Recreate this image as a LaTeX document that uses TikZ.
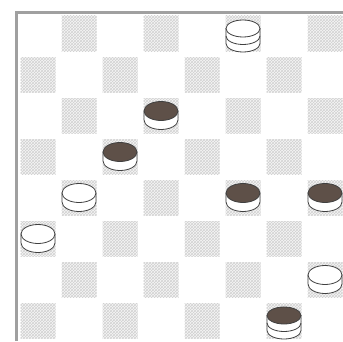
\documentclass[tikz,border=0pt]{standalone}
\usetikzlibrary{patterns}
\definecolor{darkman}{HTML}{5E5048}
\definecolor{edge}{HTML}{404040}
\definecolor{frame}{HTML}{A0A0A0}
\tikzset{
  hatchsq/.style={fill=gray!7, postaction={pattern=crosshatch, pattern color=gray!35}},
  side/.style={fill=white, draw=edge, line width=0.8pt},
  topdark/.style={fill=darkman, draw=edge, line width=0.8pt},
  toplight/.style={fill=white, draw=edge, line width=0.8pt},
}
% single man: #1 col, #2 row, #3 top style
\newcommand\man[3]{%
  \pgfmathsetmacro\cx{17.5+41*(#1)-20.5}%
  \pgfmathsetmacro\cy{341-13-41*(#2)+20.5}%
  \path[side] (\cx-17,\cy+4.5) -- (\cx-17,\cy-4.5)
     arc[start angle=180,end angle=360,x radius=17,y radius=9.5] -- (\cx+17,\cy+4.5) -- cycle;
  \path[#3] (\cx,\cy+4.5) ellipse[x radius=17,y radius=9.5];
}
% king: two stacked men
\newcommand\king[3]{%
  \pgfmathsetmacro\cx{17.5+41*(#1)-20.5}%
  \pgfmathsetmacro\cy{341-13-41*(#2)+20.5}%
  \path[side] (\cx-17,\cy+5) -- (\cx-17,\cy-10)
     arc[start angle=180,end angle=360,x radius=17,y radius=8.5] -- (\cx+17,\cy+5) -- cycle;
  \draw[edge, line width=0.8pt] (\cx-17,\cy-2.5)
     arc[start angle=180,end angle=360,x radius=17,y radius=8.5];
  \path[#3] (\cx,\cy+5) ellipse[x radius=17,y radius=8.5];
}
\begin{document}
\begin{tikzpicture}[x=1pt,y=1pt]
\useasboundingbox (0,0) rectangle (343,341);
\fill[white] (0,0) rectangle (343,341);
\begin{scope}
\clip (0,0) rectangle (343,341);
% dark squares
\foreach \r in {1,...,8}{
  \foreach \c in {1,...,8}{
    \pgfmathtruncatemacro\parity{mod(\r+\c,2)}
    \ifnum\parity=1
      \path[hatchsq] ({17.5+41*(\c-1)+3},{341-13-41*\r+3}) rectangle ({17.5+41*\c-3},{341-13-41*(\r-1)-3});
    \fi
  }
}
% frame
\draw[frame, line width=2.5pt] (16.5,0) -- (16.5,328.5) -- (345,328.5);
\end{scope}
% pieces
\king{6}{1}{toplight}
\man{4}{3}{topdark}
\man{3}{4}{topdark}
\man{2}{5}{toplight}
\man{6}{5}{topdark}
\man{8}{5}{topdark}
\man{1}{6}{toplight}
\man{8}{7}{toplight}
\king{7}{8}{topdark}
\end{tikzpicture}
\end{document}
